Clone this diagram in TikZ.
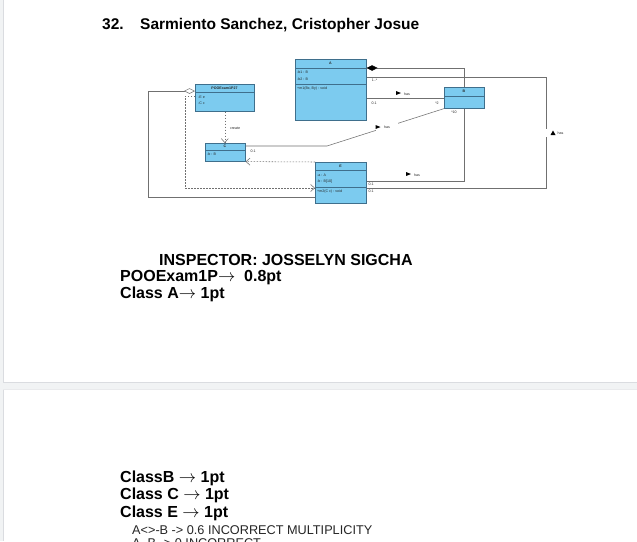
\documentclass[tikz,border=0pt]{standalone}
\usepackage{fontspec}
\setmainfont{Liberation Sans}
\newcommand{\rarrw}{\ensuremath{\rightarrow}}
\usetikzlibrary{arrows.meta}
\definecolor{umlfill}{HTML}{7CCBEF}
\definecolor{umledge}{HTML}{3F6F8C}
\definecolor{pagegap}{HTML}{F1F3F4}
\definecolor{pageline}{HTML}{DADCE0}
\definecolor{linegray}{HTML}{707070}
\begin{document}
\begin{tikzpicture}[x=1pt,y=-1pt,
  cls/.style={draw=umledge, fill=umlfill, line width=0.6pt, inner sep=0pt, anchor=north west},
  sepline/.style={draw=umledge, line width=0.5pt},
  tiny/.style={font=\fontsize{3.6}{4}\selectfont, inner sep=0pt, text=black!85},
  tinyb/.style={font=\fontsize{3.6}{4}\selectfont\bfseries, inner sep=0pt, text=black!85},
  assoc/.style={draw=linegray, line width=0.55pt},
  depline/.style={draw=linegray, line width=0.55pt, dash pattern=on 1.5pt off 1.5pt, -{Straight Barb[length=4pt,width=7pt]}},
  big/.style={font=\fontsize{16}{19}\selectfont\bfseries, inner sep=0pt, anchor=base west},
  note/.style={font=\fontsize{12.7}{15}\selectfont, inner sep=0pt, anchor=base west, text=black!85},
  hasr/.style={fill=black},
]
\clip (0,0) rectangle (637,541);
\fill[white] (0,0) rectangle (637,541);
% page frame
\fill[pagegap] (0,0) rectangle (3,541);
\draw[pageline, line width=0.5pt] (3,0) -- (3,382);
\draw[pageline, line width=0.5pt] (3,389) -- (3,541);
\fill[pagegap] (3,382) rectangle (637,389);
\draw[pageline, line width=1pt] (3,382) -- (637,382);
\draw[pageline!60, line width=0.5pt] (3,389) -- (637,389);

% title
\node[big, font=\fontsize{15.5}{18}\selectfont\bfseries] (num) at (102,29.5) {32.};
\node[big, font=\fontsize{15.5}{18}\selectfont\bfseries] (name) at (140,29.5) {Sarmiento Sanchez, Cristopher Josue};

% classes
\node[cls, minimum width=71pt, minimum height=61pt] (A) at (295,59) {};
\draw[sepline] (295,68) -- (366,68);
\draw[sepline] (295,84) -- (366,84);
\node[tinyb] at (330.5,63.5) {A};
\node[tiny, anchor=west] at (297,72.5) {-b1 : B};
\node[tiny, anchor=west] at (297,79) {-b2 : B};
\node[tiny, anchor=west] at (297,89) {+m1(Bx, By) : void};

\node[cls, minimum width=59pt, minimum height=27pt] (P) at (195,84) {};
\draw[sepline] (195,92) -- (254,92);
\node[tinyb] at (224.5,88) {POOExam1P27};
\node[tiny, anchor=west] at (198,97) {-E e};
\node[tiny, anchor=west] at (198,103.5) {-C c};

\node[cls, minimum width=40pt, minimum height=21pt] (B) at (444,87) {};
\draw[sepline] (444,96) -- (484,96);
\node[tinyb] at (464,91.5) {B};

\node[cls, minimum width=40pt, minimum height=18pt] (C) at (205,143) {};
\draw[sepline] (205,150) -- (245,150);
\node[tinyb] at (225,146.5) {C};
\node[tiny, anchor=west] at (207,154.5) {-b : B};

\node[cls, minimum width=51pt, minimum height=41pt] (E) at (315,162) {};
\draw[sepline] (315,170) -- (366,170);
\draw[sepline] (315,187) -- (366,187);
\node[tinyb] at (340.5,166) {E};
\node[tiny, anchor=west] at (317,175) {-a : A};
\node[tiny, anchor=west] at (317,181.5) {-b : B[10]};
\node[tiny, anchor=west] at (317,192) {+m2(C c) : void};

% composition A <>- B
\draw[assoc, {Diamond[length=11pt,width=5.5pt,color=black]}-] (A.east |- 0,68) -- (B.north |- 0,68) -- (B.north);
% A -- E
\draw[assoc] (A.east |- 0,77) -- (546,77) -- (546,129);
\draw[assoc] (546,137) -- (546,188) -- (E.east |- 0,188);
\fill[hasr] (550.5,135) -- (553,130.5) -- (555.5,135) -- cycle;
\node[tiny, anchor=west] at (557.5,133.5) {has};
\node[tiny] at (374.5,80.5) {1..*};
\node[tiny] at (371,191) {0.1};
% A -- B
\draw[assoc] (A.east |- 0,98) -- (B.west |- 0,98);
\fill[hasr] (396,91) -- (401,93) -- (396,95) -- cycle;
\node[tiny, anchor=west] at (404,94) {has};
\node[tiny] at (374,103) {0.1};
\node[tiny] at (437,103) {*2};
% C -- B
\draw[assoc] (C.east |- 0,146) -- (327,146) -- (B.south west);
\fill[white] (376,122) rectangle (398,131);
\fill[hasr] (375.5,125) -- (380.5,127) -- (375.5,129) -- cycle;
\node[tiny, anchor=west] at (384,127.5) {has};
\node[tiny] at (253,151) {0.1};
% E -- B
\draw[assoc] (E.east |- 0,181) -- (B.south |- 0,181) -- (B.south);
\fill[hasr] (406,172) -- (411,174) -- (406,176) -- cycle;
\node[tiny, anchor=west] at (414,175) {has};
\node[tiny] at (371,184) {0.1};
\node[tiny] at (454,112) {*10};
% dependencies
\draw[depline] (E.north west) -- (C.south east);
\draw[depline] (P.south) -- (P.south |- C.north);
\node[tiny] at (235,128) {create};
\draw[depline] (P.west |- 0,96) -- (185,96) -- (185,188) -- (E.west |- 0,188);
% aggregation POOExam <>- E
\draw[assoc, {Diamond[open,fill=white,length=11pt,width=5.5pt]}-] (P.west |- 0,91) -- (148,91) -- (148,197) -- (E.west |- 0,197);

% inspector text
\node[big, align=left, font=\fontsize{16}{16.5}\selectfont\bfseries] (insp) at (120,298)
  {\hspace*{39pt}INSPECTOR: JOSSELYN SIGCHA\\POOExam1P\rarrw\ \ 0.8pt\\Class A\rarrw\ 1pt};
\node[big, align=left, font=\fontsize{16}{17.5}\selectfont\bfseries] (cls) at (120,517)
  {ClassB \rarrw\ 1pt\\Class C \rarrw\ 1pt\\Class E \rarrw\ 1pt};
\node[note] (n1) at (132,534) {A<>-B -> 0.6 INCORRECT MULTIPLICITY};
\node[note] (n2) at (132,547) {A--B -> 0 INCORRECT};
\end{tikzpicture}
\end{document}
